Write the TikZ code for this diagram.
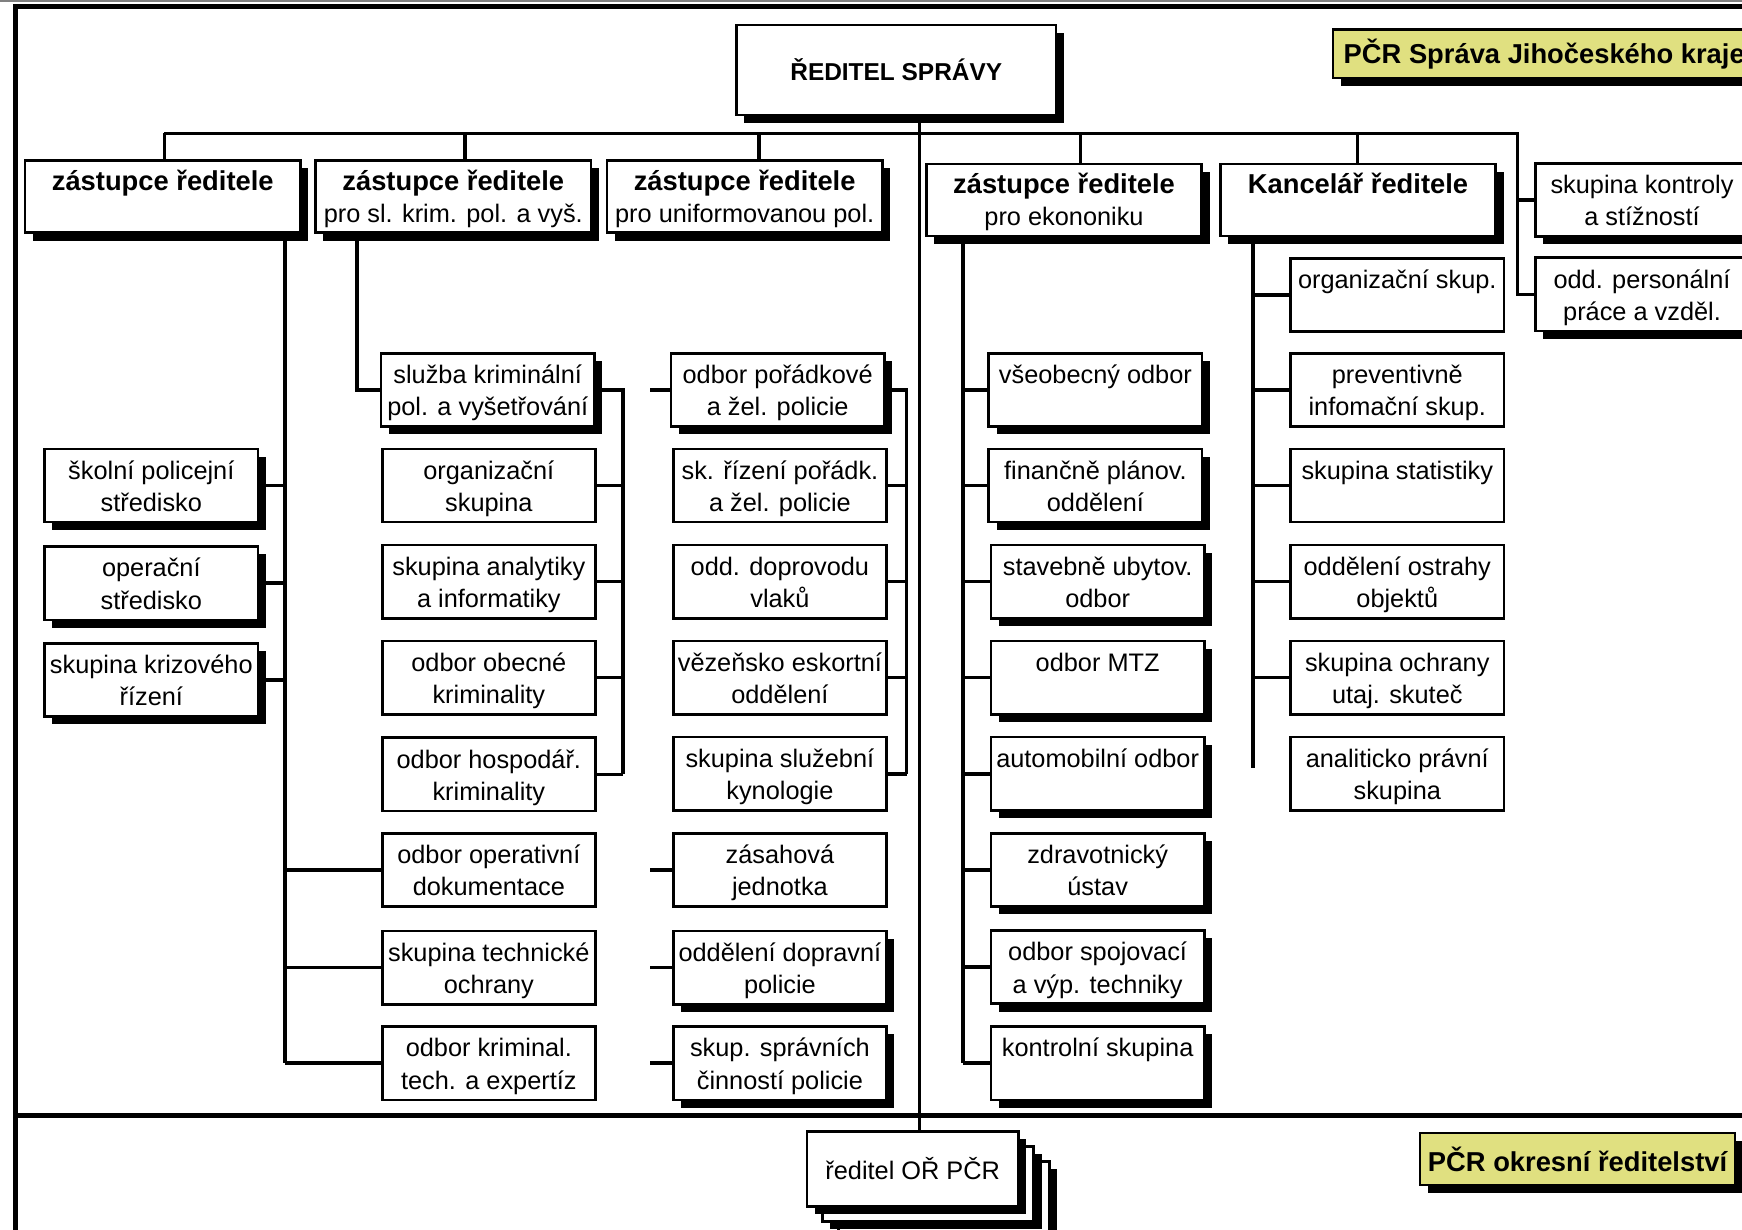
\documentclass[tikz,border=0pt]{standalone}
\usepackage{fontspec}
\setmainfont{Liberation Sans}
\usetikzlibrary{shadows}
\definecolor{tagyellow}{RGB}{224,224,128}
\newcommand\boxfont{\fontsize{11.4}{14.5}\selectfont}
\newcommand\headfont{\fontsize{12.3}{14.5}\selectfont\bfseries}
\newcommand\boxtext[2]{\rule{0pt}{13.2pt}#1\\\strut #2}
\begin{document}
\begin{tikzpicture}[x=0.5pt,y=-0.5pt,
    unit/.style={draw,fill=white,line width=1.2pt,minimum width=96pt,minimum height=33pt,inner sep=0pt,align=center,font=\boxfont},
    shd/.style={drop shadow={shadow xshift=3.5pt,shadow yshift=-3.5pt,opacity=1,fill=black}},
    head/.style={unit,shd,minimum width=124pt,minimum height=32.5pt},
    tag/.style={draw,fill=tagyellow,line width=1pt,inner sep=0pt,font=\headfont,shd},
    link/.style={line width=1.6pt}]
  \useasboundingbox (0,0) rectangle (1568,1107);
  \draw[gray,line width=0.8pt] (0,1.2) -- (1568,1.2);
  \draw[line width=2.6pt] (14,1107) -- (14,5.9) -- (1568,5.9);
  \draw[line width=2.3pt] (14,1004.3) -- (1568,1004.3);

  \node (top) at (806.75,63) [unit,shd,minimum width=143.75pt,minimum height=40.5pt,font=\fontsize{11}{12}\selectfont\bfseries] {ŘEDITEL SPRÁVY};
  \node (kraj) at (1390,48.5) [tag,minimum width=190pt,minimum height=22pt] {PČR Správa Jihočeského kraje};

  \node (z1) at (146.5,177) [head] {\boxtext{{\headfont zástupce ředitele}}{}};
  \node (z2) at (408,177) [head] {\boxtext{{\headfont zástupce ředitele}}{pro sl. krim. pol. a vyš.}};
  \node (z3) at (670.3,177) [head] {\boxtext{{\headfont zástupce ředitele}}{pro uniformovanou pol.}};
  \node (z4) at (957.75,180) [head] {\boxtext{{\headfont zástupce ředitele}}{pro ekononiku}};
  \node (kanc) at (1222.35,180) [head] {\boxtext{{\headfont Kancelář ředitele}}{}};
  \node (kontr) at (1478,180) [unit,shd] {\boxtext{skupina kontroly}{a stížností}};
  \node (pers) at (1478,265) [unit,shd] {\boxtext{odd. personální}{práce a vzděl.}};

  \node (skola) at (136.2,437) [unit,shd] {\boxtext{školní policejní}{středisko}};
  \node (operac) at (136.2,525) [unit,shd] {\boxtext{operační}{středisko}};
  \node (krize) at (136.2,612) [unit,shd] {\boxtext{skupina krizového}{řízení}};
  \node (operativ) at (440,783) [unit] {\boxtext{odbor operativní}{dokumentace}};
  \node (technika) at (440,871) [unit] {\boxtext{skupina technické}{ochrany}};
  \node (expertiz) at (440,957) [unit] {\boxtext{odbor kriminal.}{tech. a expertíz}};

  \node (sluzba) at (439,351) [unit,shd] {\boxtext{služba kriminální}{pol. a vyšetřování}};
  \node (organiz) at (440,437) [unit] {\boxtext{organizační}{skupina}};
  \node (analyt) at (440,523.5) [unit] {\boxtext{skupina analytiky}{a informatiky}};
  \node (obecna) at (440,610) [unit] {\boxtext{odbor obecné}{kriminality}};
  \node (hosp) at (440,697) [unit] {\boxtext{odbor hospodář.}{kriminality}};

  \node (poradek) at (700,351) [unit,shd] {\boxtext{odbor pořádkové}{a žel. policie}};
  \node (rizeni) at (702,437) [unit] {\boxtext{sk. řízení pořádk.}{a žel. policie}};
  \node (doprovod) at (702,523.5) [unit] {\boxtext{odd. doprovodu}{vlaků}};
  \node (eskorta) at (702,610) [unit] {\boxtext{vězeňsko eskortní}{oddělení}};
  \node (kynolog) at (702,696.5) [unit] {\boxtext{skupina služební}{kynologie}};
  \node (zasah) at (702,783) [unit] {\boxtext{zásahová}{jednotka}};
  \node (doprava) at (702,871) [unit,shd] {\boxtext{oddělení dopravní}{policie}};
  \node (spravni) at (702,957) [unit,shd] {\boxtext{skup. správních}{činností policie}};

  \node (vseob) at (986,351) [unit,shd] {\boxtext{všeobecný odbor}{}};
  \node (financ) at (986,437) [unit,shd] {\boxtext{finančně plánov.}{oddělení}};
  \node (stavba) at (988,523.5) [unit,shd] {\boxtext{stavebně ubytov.}{odbor}};
  \node (mtz) at (988,610) [unit,shd] {\boxtext{odbor MTZ}{}};
  \node (auto) at (988,696.5) [unit,shd] {\boxtext{automobilní odbor}{}};
  \node (zdrav) at (988,783) [unit,shd] {\boxtext{zdravotnický}{ústav}};
  \node (spoj) at (988,870.5) [unit,shd] {\boxtext{odbor spojovací}{a výp. techniky}};
  \node (kontrol) at (988,957) [unit,shd] {\boxtext{kontrolní skupina}{}};

  \node (orgskup) at (1257.7,265.5) [unit] {\boxtext{organizační skup.}{}};
  \node (prevent) at (1257.7,351) [unit] {\boxtext{preventivně}{infomační skup.}};
  \node (statist) at (1257.7,437) [unit] {\boxtext{skupina statistiky}{}};
  \node (ostraha) at (1257.7,523.5) [unit] {\boxtext{oddělení ostrahy}{objektů}};
  \node (utaj) at (1257.7,610) [unit] {\boxtext{skupina ochrany}{utaj. skuteč}};
  \node (pravni) at (1257.7,696.5) [unit] {\boxtext{analiticko právní}{skupina}};

  \node (reditel3) at (849.5,1079.25) [unit,shd,minimum width=95pt,minimum height=33.75pt] {};
  \node (reditel2) at (835.5,1065.75) [unit,shd,minimum width=95pt,minimum height=33.75pt] {};
  \node (reditel) at (821.5,1052.25) [unit,shd,minimum width=95pt,minimum height=33.75pt] {ředitel OŘ PČR};
  \node (okres) at (1420,1043.3) [tag,minimum width=142pt,minimum height=23.3pt] {PČR okresní ředitelství};

  \coordinate (trunk) at (828,0);
  \draw[line width=1.3pt] (top.south -| trunk) -- (reditel.north -| trunk);

  \coordinate (d1) at (148,120);
  \coordinate (d2) at (418.5,120);
  \coordinate (d3) at (683,120);
  \coordinate (d4) at (972.5,120);
  \coordinate (d5) at (1222,120);
  \coordinate (bend) at (1366,120);
  \draw[link] (d1) -- (bend) |- (pers.west);
  \draw[link] (kontr.west) -- (kontr.west -| bend);
  \draw[link] (d1) -- (d1 |- z1.north) (d2) -- (d2 |- z2.north) (d3) -- (d3 |- z3.north)
    (d4) -- (d4 |- z4.north) (d5) -- (d5 |- kanc.north);

  \coordinate (z1bus) at (256.5,0);
  \draw[link] (z1.south -| z1bus) -- (z1bus |- expertiz.west)
    (skola.east) -- (skola.east -| z1bus) (operac.east) -- (operac.east -| z1bus)
    (krize.east) -- (krize.east -| z1bus) (operativ.west) -- (operativ.west -| z1bus)
    (technika.west) -- (technika.west -| z1bus) (expertiz.west) -- (expertiz.west -| z1bus);

  \coordinate (z2col) at (321.3,0);
  \coordinate (z2bus) at (561,0);
  \draw[link] (z2.south -| z2col) |- (sluzba.west);
  \draw[link] (sluzba.east) -| (z2bus |- hosp.east)
    (organiz.east) -- (organiz.east -| z2bus) (analyt.east) -- (analyt.east -| z2bus)
    (obecna.east) -- (obecna.east -| z2bus) (hosp.east) -- (hosp.east -| z2bus);

  \coordinate (z3stub) at (585,0);
  \coordinate (z3bus) at (816,0);
  \draw[link] (poradek.west) -- (poradek.west -| z3stub) (zasah.west) -- (zasah.west -| z3stub)
    (doprava.west) -- (doprava.west -| z3stub) (spravni.west) -- (spravni.west -| z3stub);
  \draw[link] (poradek.east) -| (z3bus |- kynolog.east)
    (rizeni.east) -- (rizeni.east -| z3bus) (doprovod.east) -- (doprovod.east -| z3bus)
    (eskorta.east) -- (eskorta.east -| z3bus) (kynolog.east) -- (kynolog.east -| z3bus);

  \coordinate (z4bus) at (866.7,0);
  \draw[link] (z4.south -| z4bus) -- (z4bus |- kontrol.west)
    (vseob.west) -- (vseob.west -| z4bus) (financ.west) -- (financ.west -| z4bus)
    (stavba.west) -- (stavba.west -| z4bus) (mtz.west) -- (mtz.west -| z4bus)
    (auto.west) -- (auto.west -| z4bus) (zdrav.west) -- (zdrav.west -| z4bus)
    (spoj.west) -- (spoj.west -| z4bus) (kontrol.west) -- (kontrol.west -| z4bus);

  \coordinate (kbus) at (1128,691.5);
  \draw[link] (kanc.south -| kbus) -- (kbus)
    (orgskup.west) -- (orgskup.west -| kbus) (prevent.west) -- (prevent.west -| kbus)
    (statist.west) -- (statist.west -| kbus) (ostraha.west) -- (ostraha.west -| kbus)
    (utaj.west) -- (utaj.west -| kbus);
\end{tikzpicture}
\end{document}
